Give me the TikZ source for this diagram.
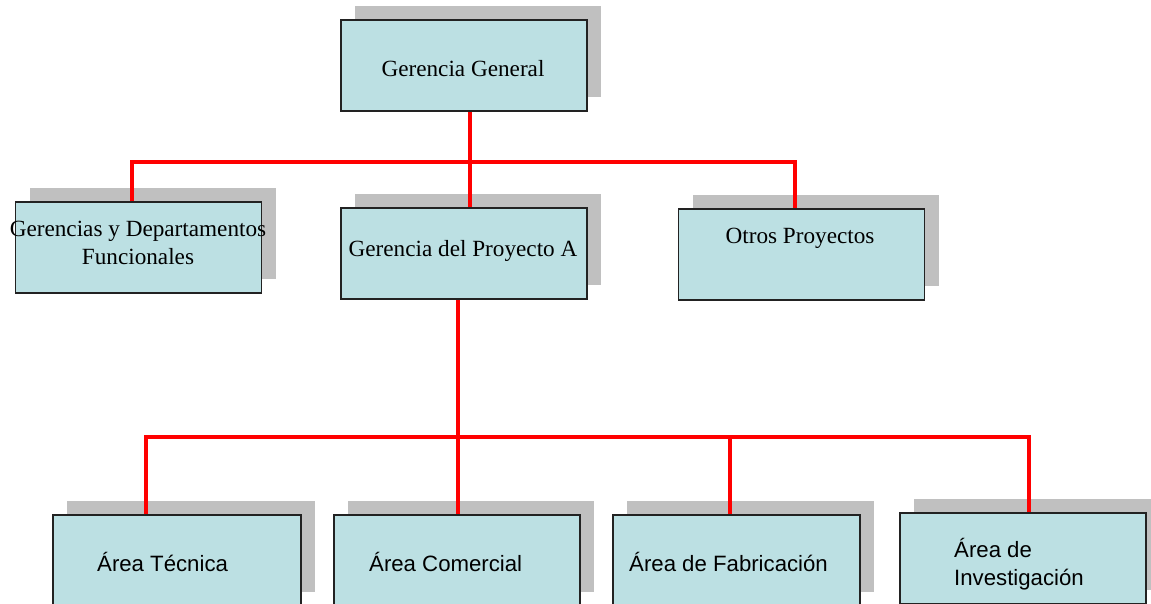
\documentclass[tikz,border=0pt]{standalone}
\usepackage{fontspec}
\setmainfont{Liberation Serif}
\newfontfamily\arialfont{Liberation Sans}
\usetikzlibrary{shadows}
\definecolor{boxfill}{HTML}{BCE0E3}
\definecolor{shadowgray}{HTML}{C0C0C0}
\definecolor{boxborder}{HTML}{222222}
\tikzset{
  orgbox/.style={draw=boxborder, line width=1.5pt, fill=boxfill, minimum width=246pt, minimum height=91pt, inner sep=0pt,
    copy shadow={shadow xshift=14pt, shadow yshift=14pt, fill=shadowgray, draw=none}},
  serif/.style={font=\fontsize{23.2}{28}\selectfont, align=center, inner sep=0pt},
  sans/.style={font=\arialfont\fontsize{22.2}{28}\selectfont, align=left, inner sep=0pt, anchor=west},
  link/.style={draw=red, line width=3.5pt}
}
\begin{document}
\begin{tikzpicture}[x=1pt,y=-1pt]
\useasboundingbox (0,0) rectangle (1151,603);
\clip (0,0) rectangle (1151,603);
% boxes
\node[orgbox] (GG) at (464,65.5) {};
\node[orgbox] (GD) at (138.5,247.5) {};
\node[orgbox] (GP) at (464,253.5) {};
\node[orgbox] (OP) at (801.5,254.5) {};
\node[orgbox, minimum width=248pt] (AT) at (177,560.5) {};
\node[orgbox] (AC) at (457,560.5) {};
\node[orgbox, minimum width=247pt] (AF) at (736.5,560.5) {};
\node[orgbox] (AI) at (1023,558.5) {};
% bus coordinates
\coordinate (t0) at (470,162);
\coordinate (t1) at (132,162);
\coordinate (t3) at (795,162);
\coordinate (s0) at (458,437);
\coordinate (s1) at (146,437);
\coordinate (s3) at (730,437);
\coordinate (s4) at (1029,437);
% connectors
\draw[link] (t0 |- GG.south) -- (t0);
\draw[link] (t1 |- GD.north) -- (t1) -- (t3) -- (t3 |- OP.north);
\draw[link] (t0) -- (t0 |- GP.north);
\draw[link] (s0 |- GP.south) -- (s0) -- (s0 |- AC.north);
\draw[link] (s1 |- AT.north) -- (s1) -- (s4) -- (s4 |- AI.north);
\draw[link] (s3) -- (s3 |- AF.north);
% texts
\node[serif] (tGG) at (463,69) {Gerencia General};
\node[serif] (tGD) at (138,243) {Gerencias y Departamentos\\Funcionales};
\node[serif] (tGP) at (463,251) {Gerencia del Proyecto A};
\node[serif] (tOP) at (800,238) {Otros Proyectos};
\node[sans] (tAT) at (97,562) {Área Técnica};
\node[sans] (tAC) at (369,562) {Área Comercial};
\node[sans] (tAF) at (629,562) {Área de Fabricación};
\node[sans] (tAI) at (954,564) {Área de\\Investigación};
\end{tikzpicture}
\end{document}
